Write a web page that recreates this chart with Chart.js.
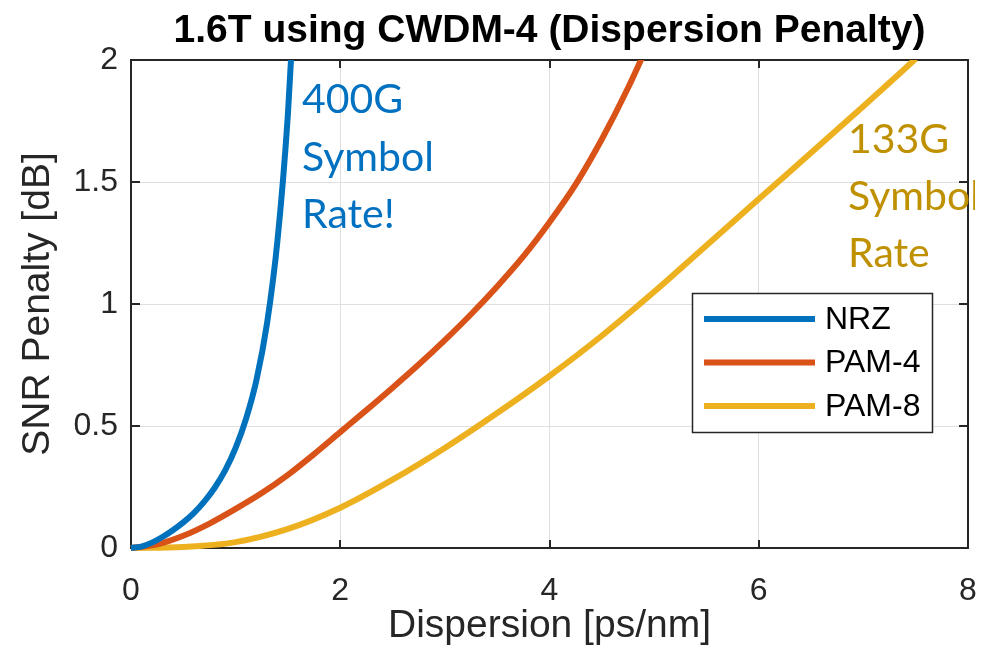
<!DOCTYPE html>
<html>
<head>
<meta charset="utf-8">
<script src="https://cdn.jsdelivr.net/npm/chart.js@4.4.1/dist/chart.umd.min.js"></script>
<style>
  html, body { margin: 0; padding: 0; background: #ffffff; }
  #wrap { width: 989px; height: 650px; }
</style>
</head>
<body>
<div id="wrap"><canvas id="c" width="989" height="650"></canvas></div>
<script>
// Dispersion [ps/nm] and SNR penalty [dB] for each modulation format
const dispNRZ    = [0, 0.1, 0.2, 0.3, 0.4, 0.5, 0.6, 0.7, 0.8, 0.9, 1.0, 1.1, 1.2, 1.3, 1.4, 1.5, 1.6];
const penaltyNRZ = [0, 0.006, 0.022, 0.045, 0.073, 0.105, 0.143, 0.19, 0.247, 0.318, 0.41, 0.53, 0.69, 0.92, 1.26, 1.78, 2.55];

const dispPAM4    = [0, 0.25, 0.5, 0.75, 1.0, 1.25, 1.5, 1.75, 2.0, 2.25, 2.5, 2.75, 3.0, 3.25, 3.5, 3.75, 4.0, 4.25, 4.5, 4.75, 5.0];
const penaltyPAM4 = [0, 0.015, 0.05, 0.10, 0.16, 0.225, 0.30, 0.385, 0.475, 0.565, 0.657, 0.752, 0.852, 0.958, 1.072, 1.195, 1.335, 1.49, 1.675, 1.885, 2.12];

const dispPAM8    = [0, 0.5, 1.0, 1.5, 2.0, 2.5, 3.0, 3.5, 4.0, 4.5, 5.0, 5.5, 6.0, 6.5, 7.0, 7.5];
const penaltyPAM8 = [0, 0.004, 0.024, 0.078, 0.165, 0.28, 0.41, 0.553, 0.705, 0.87, 1.05, 1.24, 1.43, 1.62, 1.81, 2.005];

const seriesNames  = ['NRZ', 'PAM-4', 'PAM-8'];
const seriesColors = ['#0072BD', '#D95319', '#EDB120'];

const xTicks = [0, 2, 4, 6, 8];
const xTickLabels = ['0', '2', '4', '6', '8'];
const yTicks = [0, 0.5, 1, 1.5, 2];
const yTickLabels = ['0', '0.5', '1', '1.5', '2'];

const titleText = '1.6T using CWDM-4 (Dispersion Penalty)';
const xTitle = 'Dispersion [ps/nm]';
const yTitle = 'SNR Penalty [dB]';
const noteNRZ  = ['400G', 'Symbol', 'Rate!'];
const notePAM8 = ['133G', 'Symbol', 'Rate'];

const AXIS = '#262626';
const FONT = '"Liberation Sans", Arial, Helvetica, sans-serif';

function toPoints(xs, ys) { return xs.map((x, i) => ({ x: x, y: ys[i] })); }

const datasets = [
  toPoints(dispNRZ, penaltyNRZ),
  toPoints(dispPAM4, penaltyPAM4),
  toPoints(dispPAM8, penaltyPAM8)
].map((pts, i) => ({
  label: seriesNames[i],
  data: pts,
  borderColor: seriesColors[i],
  backgroundColor: seriesColors[i],
  borderWidth: 6,
  pointRadius: 0,
  pointHoverRadius: 0,
  fill: false,
  cubicInterpolationMode: 'monotone',
  borderCapStyle: 'butt',
  clip: { left: 6, right: 0, top: 0, bottom: 6 }
}));

// Box outline and inward tick marks, under the data lines
const axesBox = {
  id: 'axesBox',
  beforeDatasetsDraw(chart) {
    const { ctx, chartArea: a, scales: { x, y } } = chart;
    ctx.save();
    ctx.strokeStyle = AXIS;
    ctx.lineWidth = 2;
    ctx.beginPath();
    xTicks.forEach(v => {
      const px = Math.round(x.getPixelForValue(v));
      ctx.moveTo(px, a.bottom); ctx.lineTo(px, a.bottom - 8);
      ctx.moveTo(px, a.top);    ctx.lineTo(px, a.top + 8);
    });
    yTicks.forEach(v => {
      const py = Math.round(y.getPixelForValue(v));
      ctx.moveTo(a.left, py);  ctx.lineTo(a.left + 9, py);
      ctx.moveTo(a.right, py); ctx.lineTo(a.right - 9, py);
    });
    ctx.stroke();
    ctx.strokeRect(a.left, a.top, a.right - a.left, a.bottom - a.top);
    ctx.restore();
  }
};

// Title, text notes and legend on top of the data
const overlay = {
  id: 'overlay',
  afterDatasetsDraw(chart) {
    const { ctx, chartArea: a } = chart;
    ctx.save();

    // title
    ctx.fillStyle = '#000000';
    ctx.font = 'bold 39px ' + FONT;
    ctx.textAlign = 'center';
    ctx.textBaseline = 'alphabetic';
    ctx.fillText(titleText, (a.left + a.right) / 2, 42);

    // notes
    ctx.textAlign = 'left';
    ctx.font = '41px Lato, "Open Sans", sans-serif';
    ctx.fillStyle = '#0070C0';
    noteNRZ.forEach((t, i) => ctx.fillText(t, 302, 113 + i * 57.5));
    ctx.save();
    ctx.beginPath();
    ctx.rect(0, 0, 975, 650);
    ctx.clip();
    ctx.fillStyle = '#BF9000';
    notePAM8.forEach((t, i) => ctx.fillText(t, 848, 153 + i * 57));
    ctx.restore();

    // legend
    const bx = 692.5, by = 293.5, bw = 240, bh = 139;
    ctx.fillStyle = '#ffffff';
    ctx.fillRect(bx, by, bw, bh);
    ctx.strokeStyle = AXIS;
    ctx.lineWidth = 1.5;
    ctx.strokeRect(bx, by, bw, bh);
    ctx.font = '32px ' + FONT;
    ctx.textBaseline = 'middle';
    chart.data.datasets.forEach((ds, i) => {
      const ry = 319 + i * 43.5;
      ctx.strokeStyle = ds.borderColor;
      ctx.lineWidth = 6;
      ctx.beginPath();
      ctx.moveTo(704, ry); ctx.lineTo(815, ry);
      ctx.stroke();
      ctx.fillStyle = '#000000';
      ctx.fillText(ds.label, 825, ry + 1);
    });
    ctx.restore();
  }
};

new Chart(document.getElementById('c'), {
  type: 'line',
  data: { datasets: datasets },
  options: {
    responsive: false,
    animation: false,
    devicePixelRatio: 1,
    layout: { padding: { top: 60, right: 21, left: 0, bottom: 0 } },
    plugins: {
      legend: { display: false },
      title: { display: false },
      tooltip: { enabled: false }
    },
    scales: {
      x: {
        type: 'linear',
        min: 0, max: 8,
        afterFit(s) { s.height = 102; s.paddingLeft = 0; s.paddingRight = 0; },
        afterBuildTicks(s) { s.ticks = xTicks.map(v => ({ value: v })); },
        grid: { color: '#dfdfdf', lineWidth: 1, drawTicks: false },
        border: { display: false },
        ticks: {
          color: AXIS,
          font: { family: FONT, size: 32 },
          padding: 24,
          maxRotation: 0,
          callback: (v, i) => xTickLabels[i]
        },
        title: {
          display: true, text: xTitle, color: AXIS,
          font: { family: FONT, size: 39 },
          padding: { top: 0, bottom: 0 }
        }
      },
      y: {
        type: 'linear',
        min: 0, max: 2,
        afterFit(s) { s.width = 131; s.paddingTop = 0; s.paddingBottom = 0; },
        afterBuildTicks(s) { s.ticks = yTicks.map(v => ({ value: v })); },
        grid: { color: '#dfdfdf', lineWidth: 1, drawTicks: false },
        border: { display: false },
        ticks: {
          color: AXIS,
          font: { family: FONT, size: 32 },
          padding: 13,
          callback: (v, i) => yTickLabels[i]
        },
        title: {
          display: true, text: yTitle, color: AXIS,
          font: { family: FONT, size: 39 },
          padding: { top: 15, bottom: 0 }
        }
      }
    }
  },
  plugins: [axesBox, overlay]
});
</script>
</body>
</html>
